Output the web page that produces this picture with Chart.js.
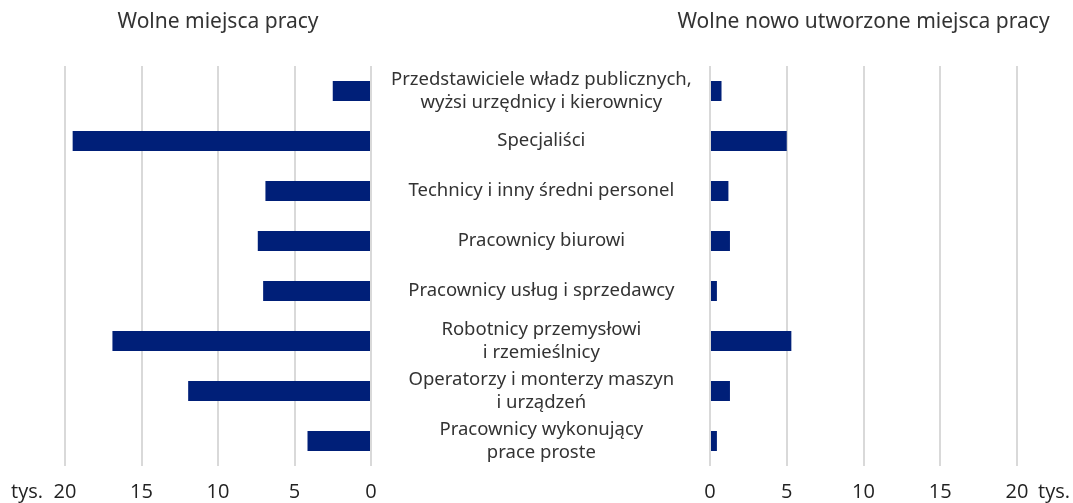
<!DOCTYPE html>
<html>
<head>
<meta charset="utf-8">
<script src="https://cdn.jsdelivr.net/npm/chart.js@4/dist/chart.umd.min.js"></script>
<style>
  html, body { margin: 0; padding: 0; background: #ffffff; }
  #wrap { position: relative; width: 1073px; height: 503px; overflow: hidden; }
  #leftBox { position: absolute; left: 0; top: 0; width: 710px; height: 518px; }
  #rightBox { position: absolute; left: 660px; top: 0; width: 413px; height: 518px; }
</style>
</head>
<body>
<div id="wrap">
  <div id="leftBox"><canvas id="left"></canvas></div>
  <div id="rightBox"><canvas id="right"></canvas></div>
</div>
<script>
const categories = [
  ["Przedstawiciele władz publicznych,", "wyżsi urzędnicy i kierownicy"],
  "Specjaliści",
  "Technicy i inny średni personel",
  "Pracownicy biurowi",
  "Pracownicy usług i sprzedawcy",
  ["Robotnicy przemysłowi", "i rzemieślnicy"],
  ["Operatorzy i monterzy maszyn", "i urządzeń"],
  ["Pracownicy wykonujący", "prace proste"]
];
const vacancies = [2.5, 19.5, 6.9, 7.4, 7.05, 16.9, 11.95, 4.15];
const newVacancies = [0.75, 5.0, 1.2, 1.3, 0.45, 5.3, 1.3, 0.45];
const leftTitle = "Wolne miejsca pracy";
const rightTitle = "Wolne nowo utworzone miejsca pracy";
const unitLabel = "tys.";
const axisMax = 20;
const axisStep = 5;

const BAR = "#001f78";
const GRID = "#d9d9d9";
const TEXT = "#333333";
const TICKFONT = { family: "'Open Sans', sans-serif", size: 20, lineHeight: 1.2 };
const LABELFONT = { family: "'Noto Sans', sans-serif", size: 18.5, lineHeight: 1.24 };
const TITLEFONT = "21px 'Noto Sans', sans-serif";
const TICKPAD = 14;

function decorPlugin(title, unitSide) {
  return {
    id: 'decor',
    afterDraw(chart) {
      const ctx = chart.ctx;
      const ca = chart.chartArea;
      const xs = chart.scales.x;
      ctx.save();
      ctx.fillStyle = TEXT;
      ctx.font = TITLEFONT;
      ctx.textAlign = 'center';
      ctx.textBaseline = 'middle';
      ctx.fillText(title, (ca.left + ca.right) / 2, 22);
      ctx.font = TICKFONT.size + "px " + TICKFONT.family;
      ctx.fillStyle = "#222222";
      const y = ca.bottom + TICKPAD + TICKFONT.size * TICKFONT.lineHeight / 2;
      const px = xs.getPixelForValue(axisMax);
      if (unitSide === 'left') {
        ctx.textAlign = 'right';
        ctx.fillText(unitLabel, px - 22, y);
      } else {
        ctx.textAlign = 'left';
        ctx.fillText(unitLabel, px + 21, y);
      }
      ctx.restore();
    }
  };
}

function xAxis(reverse) {
  return {
    type: 'linear',
    min: 0,
    max: axisMax,
    reverse: reverse,
    border: { display: false },
    grid: { color: GRID, lineWidth: 2, drawTicks: false },
    ticks: { stepSize: axisStep, color: "#222222", font: TICKFONT, padding: TICKPAD, maxRotation: 0 }
  };
}

new Chart(document.getElementById('left'), {
  type: 'bar',
  data: {
    labels: categories,
    datasets: [{ data: vacancies, backgroundColor: BAR, borderWidth: 0,
      categoryPercentage: 1.0, barPercentage: 0.4 }]
  },
  options: {
    indexAxis: 'y',
    responsive: true,
    maintainAspectRatio: false,
    animation: false,
    layout: { padding: { left: 65, right: 0, top: 66, bottom: 0 } },
    plugins: { legend: { display: false }, tooltip: { enabled: false }, title: { display: false } },
    scales: {
      x: xAxis(true),
      y: {
        position: 'right',
        border: { display: false },
        grid: { display: false, drawTicks: false },
        ticks: { color: TEXT, font: LABELFONT, crossAlign: 'center', padding: 20, autoSkip: false },
        afterFit(scale) { scale.width = 339; }
      }
    }
  },
  plugins: [decorPlugin(leftTitle, 'left')]
});

new Chart(document.getElementById('right'), {
  type: 'bar',
  data: {
    labels: categories,
    datasets: [{ data: newVacancies, backgroundColor: BAR, borderWidth: 0,
      categoryPercentage: 1.0, barPercentage: 0.4 }]
  },
  options: {
    indexAxis: 'y',
    responsive: true,
    maintainAspectRatio: false,
    animation: false,
    layout: { padding: { left: 0, right: 56, top: 66, bottom: 0 } },
    plugins: { legend: { display: false }, tooltip: { enabled: false }, title: { display: false } },
    scales: {
      x: xAxis(false),
      y: {
        position: 'left',
        border: { display: false },
        grid: { display: false, drawTicks: false },
        ticks: { display: false },
        afterFit(scale) { scale.width = 50; }
      }
    }
  },
  plugins: [decorPlugin(rightTitle, 'right')]
});
</script>
</body>
</html>
